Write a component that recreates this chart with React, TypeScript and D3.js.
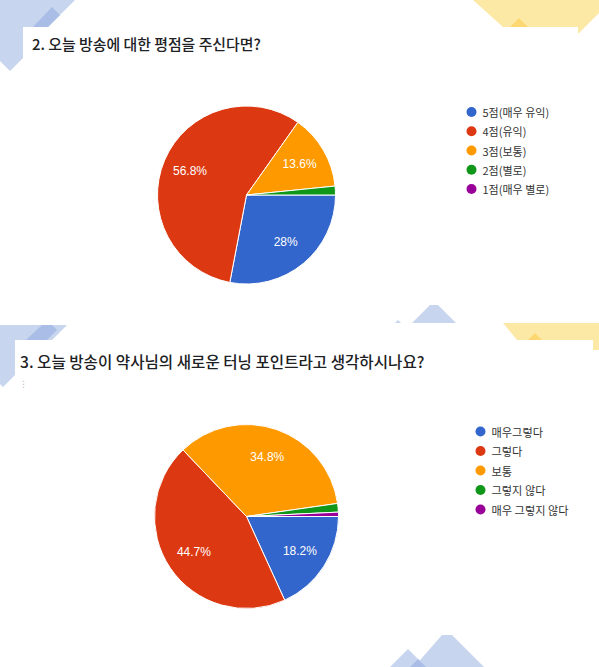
import React from "react";
import * as d3 from "d3";

const W = 599;
const H = 667;

const colors = ["#3366cc", "#dc3912", "#ff9900", "#109618", "#990099"];

const q2Title = "2. 오늘 방송에 대한 평점을 주신다면?";
const q2Labels = ["5점(매우 유익)", "4점(유익)", "3점(보통)", "2점(별로)", "1점(매우 별로)"];
const q2Values = [35, 71, 17, 2, 0];

const q3Title = "3. 오늘 방송이 약사님의 새로운 터닝 포인트라고 생각하시나요?";
const q3Labels = ["매우그렇다", "그렇다", "보통", "그렇지 않다", "매우 그렇지 않다"];
const q3Values = [24, 59, 46, 2, 1];

const fmtPct = (v: number, total: number) => {
  const p = Math.round((v / total) * 1000) / 10;
  return `${p}%`;
};

type PieProps = {
  values: number[];
  labels: string[];
  cx: number;
  cy: number;
  r: number;
  legendX: number;
  legendY: number;
  legendStep: number;
  legendFont: number;
};

function Pie({ values, labels, cx, cy, r, legendX, legendY, legendStep, legendFont }: PieProps) {
  const total = d3.sum(values);
  const pie = d3
    .pie<number>()
    .sort(null)
    .value((d) => d)
    .startAngle(Math.PI / 2)
    .endAngle(Math.PI / 2 + 2 * Math.PI);
  const arcs = pie(values);
  const arc = d3.arc<d3.PieArcDatum<number>>().innerRadius(0).outerRadius(r);
  const labelArc = d3
    .arc<d3.PieArcDatum<number>>()
    .innerRadius(r * 0.69)
    .outerRadius(r * 0.69);
  return (
    <g>
      <g transform={`translate(${cx},${cy})`}>
        {arcs.map((a, i) =>
          a.value > 0 ? (
            <path key={i} d={arc(a) || ""} fill={colors[i]} stroke="#fff" strokeWidth={1} />
          ) : null
        )}
        {arcs.map((a, i) => {
          if (a.value / total < 0.05) return null;
          const [x, y] = labelArc.centroid(a);
          return (
            <text
              key={"l" + i}
              x={x}
              y={y}
              textAnchor="middle"
              dominantBaseline="central"
              fill="#fff"
              fontFamily="'Liberation Sans', Arial, sans-serif"
              fontSize={12}
            >
              {fmtPct(a.value, total)}
            </text>
          );
        })}
      </g>
      <g>
        {labels.map((l, i) => (
          <g key={i} transform={`translate(${legendX},${legendY + i * legendStep})`}>
            <circle r={5} fill={colors[i]} />
            <text
              x={11}
              y={0}
              dominantBaseline="central"
              fill="#333"
              fontFamily="'Noto Sans CJK KR', sans-serif"
              fontSize={legendFont}
            >
              {l}
            </text>
          </g>
        ))}
      </g>
    </g>
  );
}

export default function App() {
  const blueL = "#c7d5ef";
  const blueD = "#a9bde6";
  const yelL = "#fde9a6";
  const yelD = "#fcd772";
  return (
    <svg
      width={W}
      height={H}
      style={{ position: "absolute", left: 0, top: 0, background: "#fff" }}
    >
      {/* top screenshot decorations */}
      <polygon points="0,0 75,0 48,27 23,27 23,58 10,71 0,61" fill={blueL} />
      <polygon points="33,27 52,7 60,15 48,27" fill={blueD} />
      <polygon points="473,0 599,0 599,13 578,34 578,27 503,27" fill={yelL} />
      <polygon points="519,18 510,27 528,27" fill={yelD} />
      {/* top screenshot bottom triangles */}
      <polygon points="430,305 438,305 456,323 412,323" fill={blueL} />
      <polygon points="398,320 395,323 401,323" fill={blueL} />
      {/* bottom screenshot decorations */}
      <polygon points="0,325 67,325 52,340 15,340 15,375 3,387 0,384" fill={blueL} />
      <polygon points="26,340 42,325 52,325 57,330 47,340" fill={blueD} />
      <polygon points="503,323 599,323 599,350 593,350 593,340 517,340" fill={yelL} />
      <polygon points="535,333 528,340 542,340" fill={yelD} />
      <polygon points="442,635 452,635 484,667 414,667" fill={blueL} />
      <polygon points="408,649 426,667 390,667" fill={blueL} />
      <polygon points="418,659 426,667 410,667" fill={blueD} />

      {/* titles */}
      <text
        x={32}
        y={50}
        fontFamily="'Noto Sans CJK KR', sans-serif"
        fontSize={14.9}
        fontWeight={500}
        fill="#202124"
      >
        {q2Title}
      </text>
      <text
        x={20}
        y={368}
        fontFamily="'Noto Sans CJK KR', sans-serif"
        fontSize={15.6}
        fontWeight={500}
        fill="#202124"
      >
        {q3Title}
      </text>
      <text x={19} y={387} fontSize={9} fill="#bbb" fontFamily="'DejaVu Sans', sans-serif">
        ⋮
      </text>

      <Pie
        values={q2Values}
        labels={q2Labels}
        cx={246.5}
        cy={195}
        r={89}
        legendX={471.5}
        legendY={112}
        legendStep={19.25}
        legendFont={11}
      />
      <Pie
        values={q3Values}
        labels={q3Labels}
        cx={246.5}
        cy={516.5}
        r={92}
        legendX={480.5}
        legendY={431.5}
        legendStep={19.5}
        legendFont={11.2}
      />
    </svg>
  );
}
